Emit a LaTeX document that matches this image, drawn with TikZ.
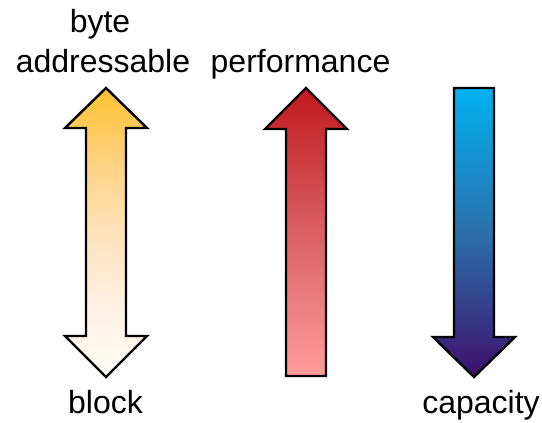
\documentclass[tikz,border=0pt]{standalone}
\usepackage{fontspec}
\setmainfont{Liberation Sans}
\definecolor{goldA}{HTML}{FFC12F}
\definecolor{goldB}{HTML}{FFD27F}
\definecolor{goldC}{HTML}{FFE2BA}
\definecolor{goldD}{HTML}{FFF0E2}
\definecolor{goldE}{HTML}{FFFDF9}
\definecolor{redA}{HTML}{C0191E}
\definecolor{redB}{HTML}{DA6062}
\definecolor{redC}{HTML}{FF9C9C}
\definecolor{blueA}{HTML}{00B2F0}
\definecolor{blueB}{HTML}{2B70AC}
\definecolor{blueC}{HTML}{3E0F6C}
\pgfdeclareverticalshading{goldsh}{100bp}{color(0bp)=(goldE); color(25bp)=(goldE); color(37.5bp)=(goldD); color(50bp)=(goldC); color(62.5bp)=(goldB); color(75bp)=(goldA); color(100bp)=(goldA)}
\pgfdeclareverticalshading{redsh}{100bp}{color(0bp)=(redC); color(25bp)=(redC); color(50bp)=(redB); color(75bp)=(redA); color(100bp)=(redA)}
\pgfdeclareverticalshading{bluesh}{100bp}{color(0bp)=(blueC); color(25bp)=(blueC); color(50bp)=(blueB); color(75bp)=(blueA); color(100bp)=(blueA)}
\tikzset{
  arrowshape/.style={draw=black, line width=2.4pt, line join=miter},
  lbl/.style={anchor=base, inner sep=0pt, font=\fontsize{32}{38}\selectfont},
}
\begin{document}
\begin{tikzpicture}[x=1pt,y=-1pt]
\useasboundingbox (0,0) rectangle (542,423);
% left double arrow
\path[arrowshape, shading=goldsh]
  (106,88) -- (147,128) -- (126,128) -- (126,336) -- (147,336) -- (106,377)
  -- (65,336) -- (86,336) -- (86,128) -- (65,128) -- cycle;
% red up arrow
\path[arrowshape, shading=redsh]
  (306,88) -- (347,129) -- (326,129) -- (326,376) -- (286,376) -- (286,129)
  -- (265,129) -- cycle;
% blue down arrow
\path[arrowshape, shading=bluesh]
  (454,88) -- (494,88) -- (494,337) -- (515,337) -- (474,377) -- (433,337)
  -- (454,337) -- cycle;
% labels
\node[lbl] (byte) at (100,32) {byte};
\node[lbl] (addr) at (103,72) {addressable};
\node[lbl] (perf) at (300.5,72) {performance};
\node[lbl] (block) at (105.5,413) {block};
\node[lbl] (cap) at (481,413) {capacity};
\end{tikzpicture}
\end{document}
